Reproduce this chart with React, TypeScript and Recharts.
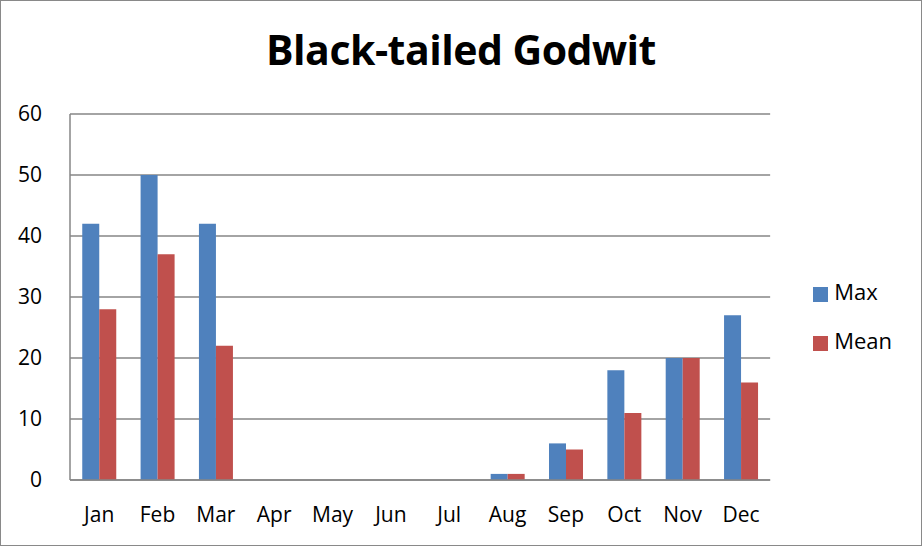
import React from 'react';
import { BarChart, Bar, XAxis, YAxis, CartesianGrid, Legend } from 'recharts';

const months = ['Jan', 'Feb', 'Mar', 'Apr', 'May', 'Jun', 'Jul', 'Aug', 'Sep', 'Oct', 'Nov', 'Dec'];
const maxCounts = [42, 50, 42, 0, 0, 0, 0, 1, 6, 18, 20, 27];
const meanCounts = [28, 37, 22, 0, 0, 0, 0, 1, 5, 11, 20, 16];
const yTicks = [0, 10, 20, 30, 40, 50, 60];

const data = months.map((m, i) => ({ month: m, Max: maxCounts[i], Mean: meanCounts[i] }));

const FONT = '"Open Sans", sans-serif';

const App: React.FC = () => {
  return (
    <div style={{ position: 'absolute', left: 0, top: 0, width: 922, height: 546, background: '#fff', fontFamily: FONT }}>
      <div style={{ position: 'absolute', inset: 0, border: '1.5px solid #898989', boxSizing: 'border-box', pointerEvents: 'none' }} />
      <div
        style={{
          position: 'absolute',
          left: 0,
          width: 922,
          top: 21,
          textAlign: 'center',
          fontSize: 41,
          fontWeight: 700,
          color: '#000',
          letterSpacing: -0.5,
        }}
      >
        Black-tailed Godwit
      </div>
      <BarChart
        width={922}
        height={546}
        data={data}
        margin={{ top: 114, right: 63, bottom: 26, left: 0 }}
        barCategoryGap="21%"
        barGap={0}
      >
        <CartesianGrid vertical={false} stroke="#868686" strokeWidth={1.5} />
        <XAxis
          dataKey="month"
          height={40}
          tickLine={false}
          axisLine={{ stroke: '#868686', strokeWidth: 1.5 }}
          tick={{ fill: '#000', fontSize: 21, fontFamily: FONT }}
          tickMargin={21}
          interval={0}
        />
        <YAxis
          width={70}
          domain={[0, 60]}
          ticks={yTicks}
          tickLine={false}
          axisLine={{ stroke: '#868686', strokeWidth: 1.5 }}
          tick={{ fill: '#000', fontSize: 21, fontFamily: FONT }}
          tickMargin={22}
        />
        <Legend
          layout="vertical"
          align="right"
          verticalAlign="top"
          iconType="square"
          iconSize={15}
          wrapperStyle={{ top: 267, right: 20, fontSize: 22, lineHeight: '49px' }}
          formatter={(value) => <span style={{ color: '#000', marginLeft: 2 }}>{value}</span>}
        />
        <Bar dataKey="Max" fill="#4F81BD" isAnimationActive={false} />
        <Bar dataKey="Mean" fill="#C0504D" isAnimationActive={false} />
      </BarChart>
    </div>
  );
};

export default App;
